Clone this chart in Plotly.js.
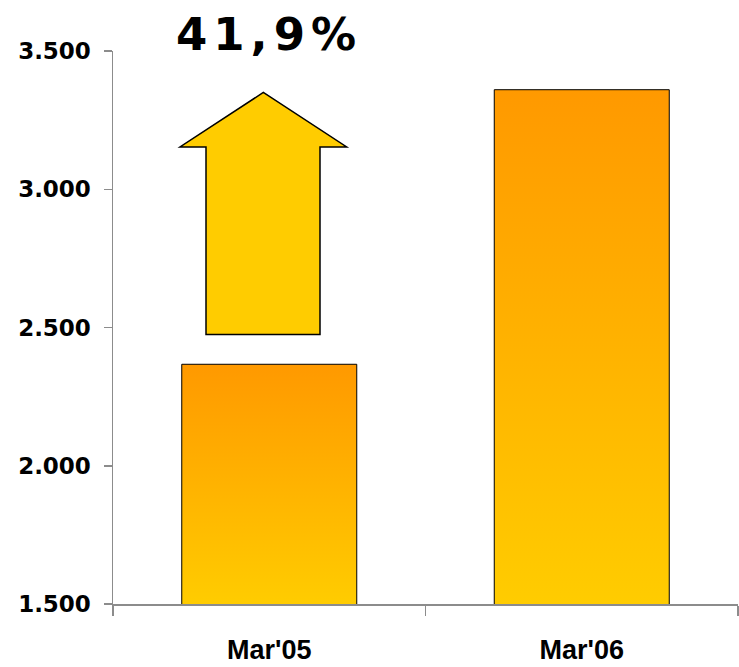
<!DOCTYPE html>
<html>
<head>
<meta charset="utf-8">
<script src="https://cdn.plot.ly/plotly-3.0.1.min.js"></script>
<style>
html,body{margin:0;padding:0;background:#fff;}
#chart{width:739px;height:667px;}
</style>
</head>
<body>
<div id="chart"></div>
<script>
// ---- data ----
const categories = ["Mar'05", "Mar'06"];
const values = [2367, 3360];
const yTickVals = [1500, 2000, 2500, 3000, 3500];
const yTickText = ["1.500", "2.000", "2.500", "3.000", "3.500"];
const growthLabel = "41,9%";
const arrowBottom = 2475, arrowHeadBase = 3153, arrowTip = 3350;

const trace = {
  type: 'bar',
  x: categories,
  y: values,
  marker: {color: '#FFB300', line: {color: '#000000', width: 1}},
  hoverinfo: 'skip'
};

// arrow geometry (x in paper units, y in data units)
const aL = 0.1072, sL = 0.1488, aC = 0.2405, sR = 0.3312, aR = 0.3739;
const arrowPath = `M ${sL},${arrowBottom} L ${sR},${arrowBottom} L ${sR},${arrowHeadBase} L ${aR},${arrowHeadBase} L ${aC},${arrowTip} L ${aL},${arrowHeadBase} L ${sL},${arrowHeadBase} Z`;

const layout = {
  width: 739, height: 667,
  margin: {l: 113, r: 1, t: 51, b: 63, pad: 0},
  paper_bgcolor: '#ffffff', plot_bgcolor: '#ffffff',
  showlegend: false,
  bargap: 0.44,
  xaxis: {
    type: 'category',
    range: [-0.5, 1.5],
    showline: true, linecolor: '#8c8c8c', linewidth: 1.5,
    ticks: 'outside', tickson: 'boundaries', ticklen: 10, tickcolor: '#8c8c8c', tickwidth: 1.5,
    showgrid: false, zeroline: false,
    tickfont: {family: 'Liberation Sans, Arial, sans-serif', size: 27, color: '#000', weight: 'bold'},
    ticklabelstandoff: 21
  },
  yaxis: {
    range: [1500, 3500],
    tickvals: yTickVals, ticktext: yTickText,
    showline: true, linecolor: '#8c8c8c', linewidth: 1.5,
    ticks: 'outside', ticklen: 8, tickcolor: '#8c8c8c', tickwidth: 1.5,
    showgrid: false, zeroline: false,
    tickfont: {family: 'DejaVu Sans, sans-serif', size: 23, color: '#000', weight: 'bold'},
    ticklabelstandoff: 8
  },
  shapes: [{
    type: 'path', xref: 'paper', yref: 'y', path: arrowPath,
    fillcolor: '#FFCC00', line: {color: '#000000', width: 1.5}, layer: 'above'
  }],
  annotations: [{
    xref: 'paper', yref: 'paper', x: 0.249, y: 1.03,
    xanchor: 'center', yanchor: 'middle', showarrow: false,
    text: growthLabel,
    font: {family: 'DejaVu Sans, Verdana, sans-serif', size: 45, color: '#000', weight: 'bold'}
  }]
};

Plotly.newPlot('chart', [trace], layout, {displayModeBar: false, staticPlot: true}).then(function(gd){
  const svg = gd.querySelector('.main-svg');
  const ns = 'http://www.w3.org/2000/svg';
  let defs = svg.querySelector('defs');
  if (!defs) { defs = document.createElementNS(ns, 'defs'); svg.insertBefore(defs, svg.firstChild); }
  const plotH = gd._fullLayout._size.h;
  gd.querySelectorAll('.bars .point path').forEach(function(p, i){
    const bb = p.getBBox();
    const top = bb.y;
    const grad = document.createElementNS(ns, 'linearGradient');
    grad.setAttribute('id', 'barGrad' + i);
    grad.setAttribute('gradientUnits', 'userSpaceOnUse');
    grad.setAttribute('x1', '0'); grad.setAttribute('y1', String(top));
    grad.setAttribute('x2', '0'); grad.setAttribute('y2', String(plotH));
    [['0', '#FF9900'], ['1', '#FFCC00']].forEach(function(s){
      const st = document.createElementNS(ns, 'stop');
      st.setAttribute('offset', s[0]); st.setAttribute('stop-color', s[1]);
      grad.appendChild(st);
    });
    defs.appendChild(grad);
    p.style.fill = 'url(#barGrad' + i + ')';
  });
  gd.querySelectorAll('.annotation-text').forEach(function(t){ t.style.letterSpacing = '6px'; });
});
</script>
</body>
</html>
